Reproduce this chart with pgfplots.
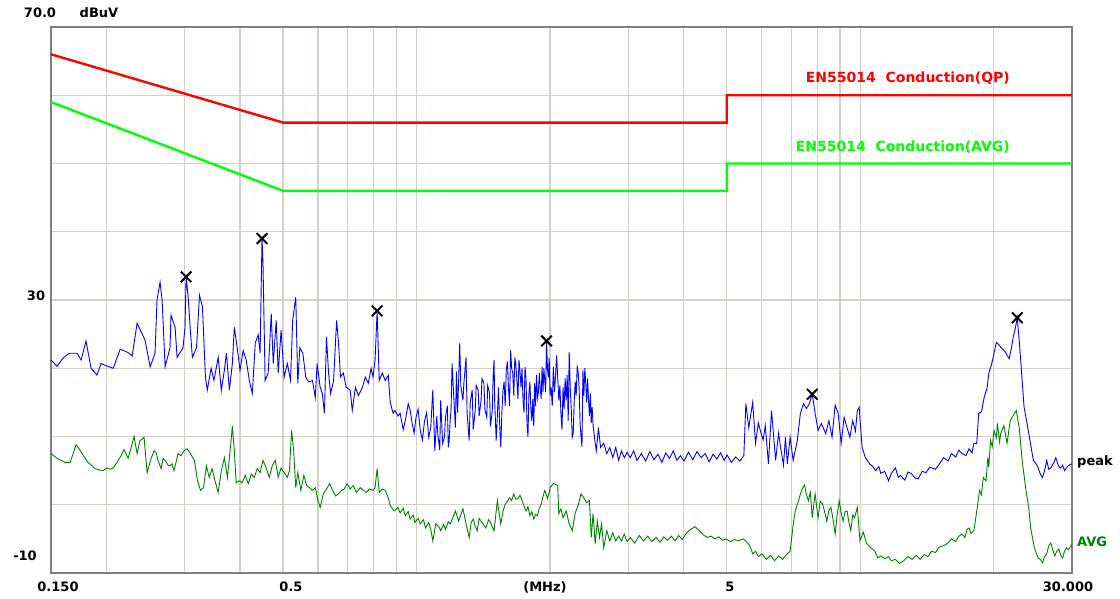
\documentclass[border=0pt]{standalone}
\usepackage{fontspec}
\setmainfont{DejaVu Sans}
\usepackage{pgfplots}
\pgfplotsset{compat=1.18}
\usepackage{pgfplotstable}
\definecolor{gridc}{RGB}{212,208,200}
\definecolor{framec}{RGB}{128,128,128}
\definecolor{qpred}{RGB}{255,0,0}
\definecolor{avglim}{RGB}{0,255,0}
\definecolor{peakblue}{RGB}{0,0,255}
\definecolor{avgtrace}{RGB}{0,128,0}

\pgfplotstableread{
f dB
0.150 21.2
0.1548 20.3
0.1597 21.5
0.1648 22.2
0.1717 22.2
0.1754 21.2
0.1799 24.0
0.1847 20.0
0.1904 19.0
0.1945 20.7
0.2007 20.3
0.2072 20.0
0.2148 22.8
0.2238 22.3
0.2286 21.8
0.2345 26.6
0.2444 24.1
0.2509 20.2
0.2574 22.2
0.2600 30.0
0.2642 32.6
0.2670 30.0
0.2712 20.2
0.2782 23.0
0.2796 27.8
0.2856 26.0
0.2886 21.6
0.2976 23.0
0.3007 26.0
0.3024 33.4
0.3057 30.4
0.3091 25.6
0.3124 21.6
0.3192 23.0
0.3242 30.7
0.3292 29.0
0.3343 18.7
0.3376 16.8
0.3444 20.0
0.3494 18.2
0.3572 21.6
0.3631 16.8
0.3689 19.7
0.3728 22.2
0.3786 16.8
0.3845 20.7
0.3884 26.0
0.3942 23.0
0.4000 19.7
0.4066 22.6
0.4132 21.2
0.4198 18.2
0.4264 16.3
0.4330 23.7
0.4396 24.9
0.4440 22.2
0.4484 39.0
0.4507 35.4
0.4557 18.2
0.4630 19.3
0.4704 28.0
0.4753 20.7
0.4827 27.0
0.4877 19.3
0.4951 25.6
0.5029 18.7
0.5114 20.7
0.5200 18.2
0.5257 27.0
0.5342 30.4
0.5399 17.8
0.5456 23.0
0.5542 22.2
0.5627 18.7
0.5713 18.0
0.5827 18.2
0.5912 15.7
0.5969 20.7
0.6064 17.2
0.6131 16.3
0.6199 13.4
0.6266 24.6
0.6334 19.3
0.6401 16.3
0.6502 18.2
0.6603 27.0
0.6671 23.7
0.6738 18.7
0.6839 19.3
0.6940 17.2
0.7085 16.8
0.7163 13.8
0.7279 17.2
0.7396 16.0
0.7551 17.2
0.7667 18.7
0.7784 17.8
0.7900 20.0
0.7977 18.7
0.8062 21.2
0.8150 28.4
0.8238 18.2
0.8370 19.3
0.8502 18.2
0.8634 19.0
0.8722 15.0
0.8854 13.4
0.8942 13.8
0.9084 13.0
0.9182 13.4
0.9330 11.0
0.9429 12.3
0.9577 14.8
0.9676 13.8
0.9774 11.9
0.9872 10.5
0.9971 12.8
1.0080 14.0
1.0194 10.9
1.0308 9.5
1.0422 12.3
1.0536 13.5
1.0650 9.9
1.0764 11.3
1.0878 16.8
1.0992 7.9
1.1106 13.0
1.1163 10.4
1.1277 8.0
1.1334 15.3
1.1448 9.0
1.1562 10.0
1.1619 12.8
1.1733 14.5
1.1790 8.4
1.1847 9.5
1.1903 12.3
1.1960 14.0
1.2021 20.7
1.2160 14.5
1.2230 11.3
1.2300 19.5
1.2370 13.5
1.2440 18.2
1.2510 23.7
1.2579 17.5
1.2719 15.3
1.2789 18.0
1.2928 21.6
1.2998 13.5
1.3138 9.4
1.3208 15.0
1.3347 16.8
1.3417 11.0
1.3557 13.8
1.3626 17.5
1.3766 16.8
1.3836 13.0
1.3975 15.3
1.4045 18.5
1.4185 17.8
1.4254 14.0
1.4394 12.8
1.4464 17.5
1.4604 16.3
1.4673 11.5
1.4813 13.8
1.4883 19.0
1.4951 21.2
1.5000 15.0
1.5117 9.4
1.5208 13.0
1.5298 17.2
1.5389 12.0
1.5479 8.4
1.5569 13.5
1.5659 16.8
1.5750 18.0
1.5840 14.5
1.5930 19.7
1.6020 21.0
1.6111 17.2
1.6201 14.5
1.6292 22.6
1.6382 20.0
1.6472 19.3
1.6563 16.0
1.6653 21.6
1.6743 20.5
1.6833 18.2
1.6924 15.5
1.7014 21.2
1.7104 19.5
1.7195 17.2
1.7285 20.0
1.7375 15.3
1.7466 13.5
1.7556 20.2
1.7646 18.5
1.7737 11.9
1.7827 10.0
1.7917 16.3
1.8008 18.0
1.8098 14.0
1.8188 12.3
1.8279 15.5
1.8369 11.5
1.8459 17.8
1.8550 14.5
1.8640 19.0
1.8730 15.7
1.8821 16.5
1.8911 19.3
1.9001 17.0
1.9092 15.5
1.9182 20.2
1.9272 16.5
1.9363 20.0
1.9453 18.2
1.9543 16.5
1.9634 24.0
1.9724 20.0
1.9814 18.7
1.9905 21.5
1.9995 16.0
2.0105 17.2
2.0221 14.5
2.0337 20.2
2.0454 16.5
2.0570 19.0
2.0686 21.9
2.0802 18.5
2.0919 15.3
2.1035 17.5
2.1151 13.4
2.1268 11.0
2.1384 17.2
2.1500 14.0
2.1617 18.5
2.1733 15.3
2.1849 19.0
2.1965 12.3
2.2082 22.4
2.2198 17.2
2.2314 14.0
2.2431 9.9
2.2547 10.5
2.2663 15.3
2.2780 18.0
2.2896 16.0
2.3012 20.2
2.3129 19.5
2.3245 17.2
2.3361 12.0
2.3477 9.9
2.3594 8.5
2.3710 19.7
2.3826 16.0
2.3943 20.0
2.4059 17.8
2.4175 15.0
2.4291 18.5
2.4408 15.3
2.4524 13.0
2.4640 16.3
2.4756 12.0
2.4872 14.3
2.5000 11.5
2.5128 10.4
2.5270 9.0
2.5412 7.9
2.5554 9.5
2.5696 11.3
2.5980 8.4
2.6406 9.0
2.6832 7.5
2.7258 8.4
2.7684 6.9
2.8110 8.4
2.8536 6.5
2.8962 7.9
2.9388 6.9
2.9814 7.7
3.0307 6.9
3.0848 7.9
3.1390 6.5
3.2112 7.5
3.283 6.4
3.355 7.8
3.427 6.6
3.500 7.4
3.572 6.2
3.644 7.6
3.716 6.8
3.789 7.9
3.861 6.5
3.933 7.2
4.007 6.4
4.100 7.7
4.193 6.6
4.286 7.8
4.379 6.9
4.472 7.5
4.565 6.3
4.658 7.4
4.751 6.7
4.844 7.6
4.937 6.5
5.009 7.3
5.123 6.2
5.237 7.0
5.351 6.4
5.465 7.2
5.522 14.8
5.607 11.3
5.721 15.0
5.807 9.0
5.892 12.0
5.949 10.9
6.040 9.5
6.108 11.6
6.209 6.0
6.310 13.8
6.445 6.5
6.546 10.5
6.613 8.4
6.714 5.8
6.782 9.9
6.849 6.0
6.950 9.9
7.058 6.5
7.213 9.4
7.330 13.4
7.446 14.8
7.562 14.1
7.679 14.8
7.795 16.2
7.911 13.4
8.033 10.9
8.172 11.9
8.358 10.4
8.498 12.3
8.637 9.9
8.777 14.6
8.916 13.4
9.056 9.0
9.196 12.8
9.335 11.3
9.475 9.9
9.614 12.3
9.754 10.8
9.847 13.8
9.940 14.3
10.097 8.4
10.268 6.9
10.496 6.0
10.667 5.6
10.838 5.0
11.009 5.6
11.123 4.6
11.351 4.9
11.579 3.5
11.750 4.6
12.000 5.4
12.181 4.0
12.321 4.3
12.600 3.6
12.810 4.8
13.019 4.6
13.298 3.9
13.507 3.8
13.787 4.9
14.066 4.7
14.345 5.5
14.763 5.2
15.054 5.9
15.415 6.9
15.777 6.4
16.047 7.5
16.409 7.0
16.680 8.0
16.951 7.5
17.312 7.2
17.583 8.2
17.854 7.6
18.034 9.0
18.305 9.0
18.486 13.4
18.757 13.6
19.028 15.8
19.299 17.0
19.479 19.2
19.750 20.5
19.930 21.6
20.256 23.8
20.488 23.5
20.721 23.1
21.070 22.6
21.303 22.2
21.652 21.4
21.884 22.8
22.117 24.6
22.349 25.8
22.582 27.4
22.815 24.0
23.047 20.2
23.396 14.3
23.745 12.0
23.977 10.4
24.326 8.0
24.559 6.5
24.908 6.0
25.170 5.4
25.454 4.5
25.738 4.0
26.022 5.0
26.306 6.5
26.590 5.2
26.874 5.4
27.300 6.2
27.584 6.9
28.010 5.6
28.294 5.4
28.578 5.8
28.862 5.0
29.288 5.6
29.714 5.9
30.000 6.0
}\peaktable

\pgfplotstableread{
f dB
0.1500 7.5
0.1548 6.8
0.1614 6.2
0.1657 6.2
0.1683 7.5
0.1708 8.8
0.1736 8.2
0.1763 7.5
0.1790 6.8
0.1818 6.2
0.1856 5.7
0.1885 5.3
0.1924 5.1
0.1965 5.0
0.2007 5.4
0.2039 5.2
0.2072 5.4
0.2126 6.5
0.2159 7.2
0.2191 8.1
0.2214 7.4
0.2238 6.8
0.2274 8.4
0.2309 10.0
0.2345 7.5
0.2380 9.4
0.2405 9.6
0.2431 9.9
0.2470 4.7
0.2522 6.8
0.2561 7.9
0.2587 7.7
0.2614 6.5
0.2656 5.3
0.2684 6.8
0.2712 6.5
0.2754 5.8
0.2782 5.7
0.2810 6.0
0.2840 5.0
0.2870 6.2
0.2900 7.5
0.2946 7.2
0.2991 7.9
0.3040 8.2
0.3091 7.5
0.3124 7.0
0.3158 6.5
0.3208 3.5
0.3259 2.1
0.3310 2.5
0.3360 5.7
0.3410 4.0
0.3460 5.3
0.3514 3.5
0.3572 1.8
0.3631 5.0
0.3689 6.9
0.3748 4.0
0.3806 8.4
0.3845 11.5
0.3884 7.9
0.3923 3.2
0.3981 3.5
0.4044 3.2
0.4110 4.3
0.4176 3.1
0.4242 4.5
0.4308 4.0
0.4374 5.3
0.4440 4.7
0.4507 6.5
0.4581 5.4
0.4655 4.0
0.4729 5.7
0.4803 6.5
0.4877 4.0
0.4951 5.4
0.5029 4.7
0.5114 4.0
0.5171 5.0
0.5228 10.9
0.5285 7.9
0.5342 2.5
0.5399 4.7
0.5485 2.1
0.5570 4.3
0.5656 2.8
0.5741 2.5
0.5827 2.1
0.5912 2.5
0.5997 0.6
0.6064 -0.4
0.6165 1.6
0.6266 2.3
0.6368 3.1
0.6469 2.1
0.6570 1.3
0.6671 1.6
0.6772 2.1
0.6873 2.3
0.6974 3.1
0.7085 2.3
0.7202 2.8
0.7318 1.8
0.7473 2.5
0.7590 2.1
0.7706 1.8
0.7823 2.3
0.7977 2.1
0.8062 2.5
0.8150 5.3
0.8238 1.8
0.8370 2.3
0.8502 2.1
0.8634 1.0
0.8722 -0.1
0.8898 -0.9
0.9084 -0.4
0.9182 -1.2
0.9330 -0.5
0.9429 -1.6
0.9577 -1.0
0.9676 -2.1
0.9823 -1.5
0.9922 -2.6
1.0080 -2.0
1.0194 -2.8
1.0365 -2.2
1.0479 -3.4
1.0650 -2.6
1.0764 -3.6
1.0878 -5.3
1.1049 -2.8
1.1220 -3.2
1.1334 -3.8
1.1505 -2.9
1.1619 -3.6
1.1790 -2.5
1.1903 -2.8
1.2091 -1.8
1.2230 -0.9
1.2440 -2.4
1.2579 -1.5
1.2719 -0.6
1.2928 -2.8
1.3138 -4.8
1.3277 -2.6
1.3417 -2.1
1.3557 -3.2
1.3696 -3.8
1.3836 -2.0
1.3975 -2.4
1.4185 -3.0
1.4324 -3.4
1.4534 -2.2
1.4673 -2.6
1.4813 -3.3
1.4951 -3.8
1.5208 0.6
1.5479 -2.8
1.5659 -1.0
1.5840 0.1
1.6020 0.5
1.6201 1.0
1.6382 0.6
1.6563 1.6
1.6743 0.8
1.6924 0.9
1.7104 1.4
1.7285 0.6
1.7466 -0.2
1.7646 -0.9
1.7827 -0.3
1.8008 -1.6
1.8188 -1.0
1.8369 -2.1
1.8550 -1.4
1.8730 -1.6
1.8911 -0.5
1.9092 0.1
1.9272 1.2
1.9453 2.1
1.9634 1.4
1.9724 0.9
1.9905 1.8
1.9995 2.5
2.0337 3.1
2.0570 3.0
2.0802 2.8
2.0919 -1.3
2.1151 -0.6
2.1384 -1.9
2.1733 -0.9
2.2082 -2.8
2.2431 -3.8
2.2780 -1.2
2.3129 -0.1
2.3477 1.6
2.3826 1.0
2.4175 0.3
2.4524 0.6
2.4756 -4.8
2.4988 -1.3
2.5270 -5.7
2.5554 -2.4
2.5838 -4.8
2.6122 -2.8
2.6406 -6.3
2.6832 -3.8
2.7258 -5.3
2.7684 -4.1
2.8110 -5.3
2.8536 -4.6
2.8962 -5.3
2.9388 -4.3
2.9814 -5.4
3.0307 -4.8
3.1029 -5.6
3.1751 -4.5
3.2473 -5.3
3.3195 -4.6
3.3917 -5.4
3.4639 -4.8
3.5361 -5.5
3.6083 -4.7
3.6805 -5.2
3.7527 -4.6
3.8249 -5.3
3.8971 -4.5
3.9693 -5.1
4.053 -4.2
4.147 -3.6
4.240 -3.2
4.333 -3.8
4.426 -4.4
4.519 -4.8
4.612 -4.6
4.705 -5.0
4.798 -4.7
4.891 -5.2
4.984 -5.0
5.094 -5.4
5.208 -5.1
5.322 -5.3
5.436 -5.0
5.522 -5.3
5.636 -6.0
5.721 -7.2
5.807 -6.8
5.892 -7.6
6.007 -7.2
6.142 -8.0
6.276 -7.4
6.411 -8.2
6.546 -7.5
6.681 -8.0
6.816 -7.3
6.950 -6.8
7.058 -3.0
7.136 -0.9
7.252 0.5
7.330 1.6
7.407 2.4
7.485 2.9
7.562 1.5
7.640 0.6
7.718 1.8
7.795 -1.9
7.911 1.6
8.033 -1.9
8.126 0.5
8.219 0.1
8.312 -1.0
8.405 -2.4
8.498 -0.8
8.591 -0.4
8.684 -2.2
8.777 -4.3
8.870 -1.5
8.963 0.6
9.056 -1.2
9.149 -2.4
9.242 -1.0
9.335 -0.9
9.428 -2.6
9.521 -3.8
9.614 -1.5
9.707 -1.9
9.847 -0.4
9.986 -5.3
10.154 -4.0
10.325 -5.6
10.553 -6.3
10.781 -6.8
10.952 -7.8
11.123 -7.5
11.351 -7.9
11.579 -7.6
11.750 -8.2
12.000 -8.0
12.251 -8.6
12.530 -8.2
12.810 -7.6
13.089 -8.0
13.368 -7.4
13.647 -8.0
13.926 -7.3
14.206 -7.6
14.485 -6.8
14.763 -7.0
15.054 -6.2
15.415 -6.0
15.777 -5.6
16.047 -5.0
16.409 -5.4
16.680 -4.6
16.951 -4.3
17.222 -4.8
17.402 -3.6
17.583 -3.4
17.764 -4.2
18.034 -3.8
18.305 -0.9
18.576 2.1
18.757 1.5
18.937 4.0
19.208 3.5
19.389 6.9
19.479 5.5
19.660 9.4
19.840 8.5
20.023 10.9
20.256 9.8
20.372 11.9
20.605 9.2
20.721 10.4
21.070 11.6
21.419 9.0
21.768 12.3
22.117 13.1
22.466 13.8
22.815 11.3
23.164 6.5
23.629 2.1
23.977 -0.5
24.210 -3.4
24.675 -6.3
25.170 -7.8
25.454 -8.0
25.738 -8.5
26.022 -7.6
26.306 -7.2
26.590 -6.0
26.874 -5.6
27.158 -6.6
27.442 -7.5
27.726 -6.8
28.010 -6.5
28.294 -7.4
28.578 -7.8
28.862 -6.8
29.146 -6.3
29.430 -6.6
29.856 -6.0
30.000 -5.8
}\avgtable

\begin{document}
\begin{tikzpicture}[x=1pt,y=1pt]
\useasboundingbox (0,0) rectangle (1120,598);
\begin{axis}[
  at={(51pt,25pt)}, anchor=south west,
  scale only axis, width=1021pt, height=546pt,
  xmode=log, xmin=0.15, xmax=30, ymin=-10, ymax=70,
  xtick={0.2,0.3,0.4,0.5,0.6,0.7,0.8,0.9,1,2,3,4,5,6,7,8,9,10,20},
  ytick={0,10,20,30,40,50,60},
  xticklabels={,,}, yticklabels={,,},
  minor tick num=0,
  major tick length=0pt,
  xmajorgrids, ymajorgrids,
  grid style={draw=gridc, line width=1.3pt},
  axis line style={draw=framec, line width=2.2pt},
]
\addplot[draw=qpred, line width=2.4pt] coordinates {(0.15,66) (0.5,56) (5,56) (5,60) (30,60)};
\addplot[draw=avglim, line width=2.4pt] coordinates {(0.15,59) (0.5,46) (5,46) (5,50) (30,50)};
\addplot[draw=avgtrace, line width=0.9pt, sharp plot] table[x=f,y=dB] {\avgtable};
\addplot[draw=peakblue, line width=0.9pt, sharp plot] table[x=f,y=dB] {\peaktable};
\addplot[only marks, mark=x, mark size=7.5pt, mark options={line width=2pt, draw=black}] coordinates {(0.3024,33.4) (0.4484,39.0) (0.815,28.4) (1.9634,24.0) (7.795,16.2) (22.58,27.4)};
\end{axis}
\begin{scope}[every node/.style={inner sep=0pt, font=\bfseries\fontsize{13}{15}\selectfont}]
\node at (40,585) {70.0};
\node at (99,585) {dBuV};
\node at (36,302) {30};
\node at (25,42) {-10};
\node at (58,11) {0.150};
\node at (291,11) {0.5};
\node at (545,11) {(MHz)};
\node at (730,11) {5};
\node at (1068,11) {30.000};
\node[anchor=west] at (1077,136) {peak};
\node[anchor=west, text=avgtrace] at (1077,56) {AVG};
\node[anchor=east, text=qpred, font=\bfseries\fontsize{14}{16}\selectfont] at (1010,520) {EN55014\ \ Conduction(QP)};
\node[anchor=east, text=avglim, font=\bfseries\fontsize{14}{16}\selectfont] at (1010,451) {EN55014\ \ Conduction(AVG)};
\end{scope}
\end{tikzpicture}
\end{document}
